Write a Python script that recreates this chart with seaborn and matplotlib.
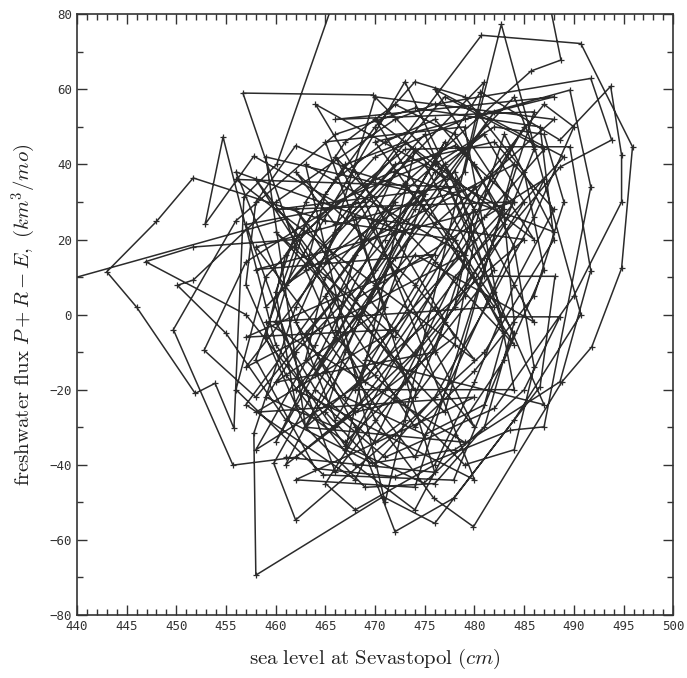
import numpy as np
import pandas as pd
import matplotlib
matplotlib.use("Agg")
import matplotlib.pyplot as plt
from matplotlib.ticker import MultipleLocator
import seaborn as sns

# sea level at Sevastopol (cm), monthly sequence
sea_level = [
    438, 461, 466, 458, 452.8, 457, 470, 478, 484, 476, 468, 462,
    455.7, 449.7, 456, 466, 474, 486.6, 488, 481, 472, 462, 459.8, 465,
    472, 479, 482.7, 486, 490.7, 484, 476, 470.8, 458, 457.8, 462, 468,
    480.7, 490.7, 495.9, 494.8, 491.8, 488.8, 479.9, 475.9, 470, 465, 473, 485.7,
    488.7, 487, 468, 460.1, 456.8, 455.8, 453.9, 451.9, 446, 443, 448, 451.7,
    465, 478, 484, 477.9, 464.8, 456, 459, 470, 479, 489.6, 491.7, 487,
    483.6, 472, 464, 458, 462, 456.7, 469.8, 478, 482.6, 488.6, 485, 474.9,
    467, 460, 454.7, 452.9, 457.8, 466, 475, 481, 488.1, 486.6, 477.9, 472,
    468, 463, 471, 480.6, 488.6, 493.7, 494.8, 494.8, 490, 482, 471, 463,
    457, 446.9, 451.7, 462, 473, 483.6, 489.6, 491.7, 488.6, 478, 469.7, 461,
    455, 450.1, 451.7, 460, 472, 476, 491.7, 493.8, 488.6, 481, 474, 466, 459,
    462, 470, 476, 481, 485, 479, 471, 465, 468, 476, 480, 484,
    488, 482, 472, 466, 462, 467, 475, 481, 483, 478, 473, 468,
    462, 458, 457, 461, 468, 474, 478, 483, 487, 485, 479, 474,
    470, 465, 463, 466, 473, 479, 484, 486, 484, 480, 476, 471,
    466, 461, 459, 463, 469, 476, 481, 484, 483, 478, 472, 467,
    463, 460, 462, 467, 473, 478, 480, 477, 474, 470, 467, 465,
    470, 476, 482, 486, 490, 487, 481, 476, 472, 469, 466, 468,
    474, 479, 484, 486, 483, 477, 473, 470, 464, 460, 463, 467,
    473, 477, 480, 478, 474, 468, 463, 465, 471, 476, 482, 487,
    489, 486, 480, 474,
    458, 474, 462, 480, 466, 484, 470, 486, 476, 489, 478, 468,
    457, 472, 460, 477, 464, 482, 468, 487, 474, 458, 480, 466,
    456, 473, 461, 478, 464, 483, 469, 487, 475, 459, 481, 471,
    463, 479, 457, 474, 467, 485, 472, 460, 477, 484, 465, 470,
    488, 476, 462, 480, 469, 457, 466, 482, 473, 461, 478, 486,
    474, 463, 459, 475, 468, 484, 479, 465, 471, 460, 476, 483,
    488, 472, 464, 458, 470, 481, 487, 477, 466, 462, 474, 480,
    456, 478, 460, 484, 458, 476, 457, 472, 458, 480, 462, 474,
    486, 466, 488, 470, 482, 459, 479, 463, 485, 468, 476, 461,
]

# freshwater flux P + R - E (km^3/mo)
flux = [
    8.5, 25.5, 4, -22, -9.5, 14, 36, 45, 30, 2, -25, -38,
    -40.1, -4.0, 25, 48, 55, 50, 20, -10, -32, -54.7, -39.6, -15,
    15, 38, 77.3, 45, 0, -28, -55.6, -48.5, -69.4, -31.6, 2, 30,
    74.4, 72.2, 44.7, 12.3, -8.6, -17.9, -56.5, -48.9, -28, 5, 35, 64.9,
    67.8, 90, 100, 40, 31.4, -30.3, -18.3, -21.0, 2, 11.4, 24.8, 36.4,
    25, 20, -5, -44.1, -42.7, -20, 10, 42, 52, 59.8, 34, -29.9,
    -30.8, -43.2, -41, -12, 18, 59, 58.5, 36, -0.6, -0.6, -20, -44.9,
    -35, -8, 47.3, 24.1, 42.2, 30, 40, 10.2, 10.2, -19.2, -48.9, -57.8,
    -30, -5, 20, 59.3, 46.5, 60.8, 42.5, 30, 5, -25, -38, -20,
    0, 14.1, 18.0, 20, 44, 44.7, 44.7, 11.7, -17.9, -36, -39.6, -28,
    -5, 7.8, 9.2, 30, 52, 56, 62.9, 46.5, 39.3, 15, -10, -30, -22,
    -10, 12, 38, 48, 30, 5, -20, -45, -52, -40, -18, 8,
    28, 46, 40, 22, -2, -22, -32, -24, -5, 20, 34, 38,
    45, 30, 8, -16, -40, -52, -32, -12, 12, 38, 58, 62,
    50, 32, 12, -6, -24, -40, -36, -14, 18, 40, 52, 46,
    36, 16, -6, -30, -46, -45, -30, -2, 26, 48, 56, 46,
    30, 6, -24, -34, -18, 2, 28, 40, 28, 8, -10, -26,
    -40, -22, 6, 26, 50, 56, 36, 14, -4, -18, -4, 16,
    30, 44, 58, 44, 24, -2, -28, -34, -20, -2, 24, 40,
    46, 36, 20, -8, -22, -26, -12, 10, 28, 40, 50, 48,
    30, 5, -15, -30,
    36, -20, 28, -30, 42, -8, 52, 20, 60, 42, 10, -44,
    -24, 30, -34, 46, -16, 54, 4, 36, -38, 18, 34, -28,
    38, 22, -40, -6, 56, 28, -12, -24, 48, 2, 62, -50,
    40, 16, -14, 44, -36, 50, -6, 22, -26, 40, 14, 58,
    52, 24, -20, -44, 30, 24, -42, 12, 62, 8, 38, -2,
    16, -30, 42, 32, -20, -20, 50, 46, 2, -18, -10, 48,
    22, 38, -8, -36, -16, 26, 44, 58, 24, 38, 8, -12,
    36, 34, 28, 30, 12, 16, -6, -4, -26, -22, -44, -46,
    54, 52, 58, 46, 2, -2, -34, -30, 20, 26, -42, -38,
]

x_ticks = [440, 445, 450, 455, 460, 465, 470, 475, 480, 485, 490, 495, 500]
y_ticks = [-80, -60, -40, -20, 0, 20, 40, 60, 80]

df = pd.DataFrame({"sea_level": sea_level, "flux": flux, "t": np.arange(len(flux))})

sns.set_style("ticks")
plt.rcParams["mathtext.fontset"] = "cm"

fig = plt.figure(figsize=(6.87, 6.78), dpi=100)
ax = fig.add_axes([0.112, 0.093, 0.868, 0.886])

sns.lineplot(data=df, x="sea_level", y="flux", sort=False, estimator=None,
             color="#2b2b2b", linewidth=1.1, marker="+", markersize=5,
             markeredgewidth=0.9, markeredgecolor="#2b2b2b", ax=ax)

ax.set_xlim(440, 500)
ax.set_ylim(-80, 80)
ax.set_xticks(x_ticks)
ax.set_yticks(y_ticks)
ax.xaxis.set_minor_locator(MultipleLocator(1))
ax.yaxis.set_minor_locator(MultipleLocator(10))
ax.tick_params(which="both", direction="in", top=True, right=True,
               labelsize=9, width=1.0, color="#333333")
ax.tick_params(which="major", length=7)
ax.tick_params(which="minor", length=4)
for lab in ax.get_xticklabels() + ax.get_yticklabels():
    lab.set_fontfamily("DejaVu Sans Mono")
    lab.set_color("#333333")
for s in ax.spines.values():
    s.set_linewidth(1.2)
    s.set_color("#333333")

ax.set_xlabel(r"$\mathrm{sea\ level\ at\ Sevastopol}\ (cm)$", fontsize=15, labelpad=10, color="#222222")
ax.set_ylabel(r"$\mathrm{freshwater\ flux}\ P+R-E,\ (km^3/mo)$", fontsize=15, labelpad=8, color="#222222")

fig.savefig("out.png", dpi=100)
